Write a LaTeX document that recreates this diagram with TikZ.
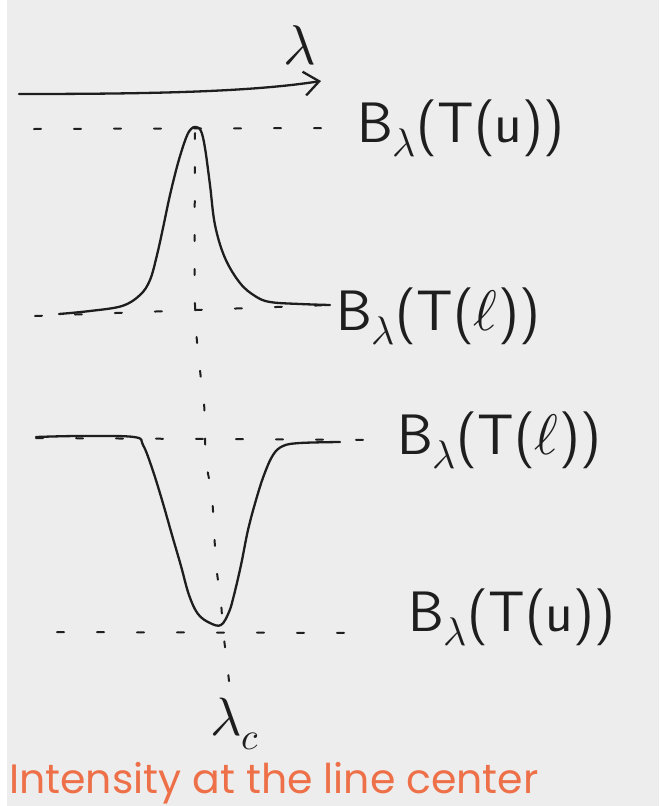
\documentclass[tikz,border=0pt]{standalone}
\usepackage{fontspec}
\usepackage{unicode-math}
\setmathfont{Latin Modern Math}
\newfontfamily\titlefont{Poppins}
\usetikzlibrary{arrows.meta}
\definecolor{paper}{HTML}{EDEDED}
\definecolor{ink}{HTML}{1E1E1E}
\definecolor{accent}{HTML}{EE7048}
\begin{document}
\begin{tikzpicture}[x=1pt,y=-1pt,
  stroke/.style={draw=ink,line width=2.3pt,line cap=round,line join=round},
  guide/.style={draw=ink,line width=2pt,line cap=round,dash pattern=on 7pt off 33pt},
  vguide/.style={draw=ink,line width=2pt,line cap=round,dash pattern=on 6pt off 28pt},
  lab/.style={text=ink,font=\sffamily\fontsize{57}{57}\selectfont,inner sep=0pt}]
\fill[white] (0,0) rectangle (659,806);
\fill[paper] (7,0) rectangle (659,806);
\useasboundingbox (0,0) rectangle (659,806);
% axis
\coordinate (a0) at (19,94);
\coordinate (a1) at (321,81);
\draw[stroke,-{Straight Barb[length=15pt,width=24pt,line width=2.3pt]}] (a0) .. controls (150,94) and (250,92) .. (a1);
\node[text=ink,font=\fontsize{56}{56}\selectfont] (lam) at (300,45) {$\lambda$};
% horizontal guides
\coordinate (g1l) at (34,129); \coordinate (g1r) at (334,128);
\coordinate (g2l) at (35,316); \coordinate (g2r) at (330,305);
\coordinate (g3l) at (36,438); \coordinate (g3r) at (372,440);
\coordinate (g4l) at (57,632); \coordinate (g4r) at (372,633);
\draw[guide] (g1l) -- (g1r);
\draw[guide] (g2l) -- (g2r);
\draw[guide] (g3l) -- (g3r);
\draw[guide] (g4l) -- (g4r);
% vertical guide
\draw[vguide] plot[smooth] coordinates {(195,133) (195,305) (200,370) (204,402) (206,460) (212,497) (216,563) (221,603) (223,630) (227,663) (230,690)};
% emission line
\draw[stroke] plot[smooth,tension=0.6] coordinates {(59,314) (90,311) (122,306) (140,295) (150,280) (157,255) (163,228) (170,195) (178,163) (186,138) (191,129) (196,127) (201,131) (205,148) (210,185) (215,225) (225,258) (240,283) (255,296) (270,302) (300,304) (330,305)};
% absorption line
\draw[stroke] plot[smooth,tension=0.6] coordinates {(36,437) (80,436) (134,437) (143,445) (152,468) (162,500) (172,535) (181,566) (189,595) (198,614) (210,623) (221,625) (229,612) (234,595) (241,565) (248,530) (256,500) (264,475) (273,455) (283,446) (300,443) (340,442)};
% labels
\node[lab,anchor=west] (l1) at (357,128) {B$_{\lambda}$(T(u))};
\node[lab,anchor=west] (l2) at (336,316) {B$_{\lambda}$(T($\ell$))};
\node[lab,anchor=west] (l3) at (397,440) {B$_{\lambda}$(T($\ell$))};
\node[lab,anchor=west] (l4) at (408,617) {B$_{\lambda}$(T(u))};
\node[text=ink,font=\fontsize{54}{54}\selectfont] (lc) at (235,724) {$\lambda_c$};
\node[anchor=base west,text=accent,font=\titlefont\fontsize{41}{41}\selectfont,inner sep=0pt] (title) at (9,793) {Intensity at the line center};
\end{tikzpicture}
\end{document}
